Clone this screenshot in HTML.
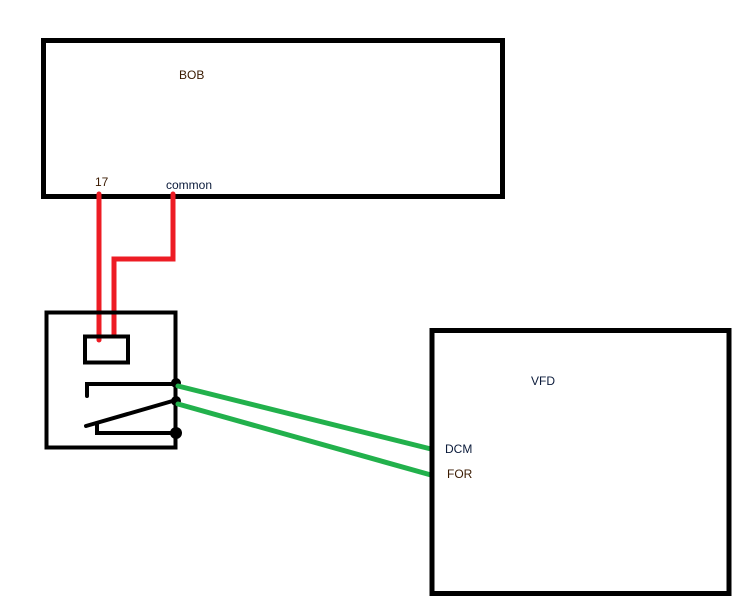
<!DOCTYPE html>
<html><head><meta charset="utf-8"><style>
html,body{margin:0;padding:0;background:#fff;}
svg{display:block;}
text{font-family:"Liberation Sans",sans-serif;font-size:12px;}
</style></head><body>
<svg width="743" height="611" viewBox="0 0 743 611" xmlns="http://www.w3.org/2000/svg">
<rect width="743" height="611" fill="#fff"/>
<!-- BOB -->
<rect x="43.5" y="40.5" width="459" height="156" fill="none" stroke="#000" stroke-width="5"/>
<text x="179" y="79" fill="#3a1a00">BOB</text>
<text x="95" y="186" fill="#3a1a00">17</text>
<text x="166" y="189" fill="#0a1a3a">common</text>
<!-- red wires -->
<g stroke="#ed1c24" stroke-width="5" fill="none" stroke-linecap="round" stroke-linejoin="miter">
<polyline points="99,194 99,340"/>
<polyline points="173,194 173,259 114,259 114,335"/>
</g>
<!-- relay -->
<rect x="46.5" y="312.5" width="129" height="135" fill="none" stroke="#000" stroke-width="4"/>
<rect x="85" y="336.5" width="43" height="26" fill="none" stroke="#000" stroke-width="4"/>
<g stroke="#000" stroke-width="4" fill="none" stroke-linecap="round">
<polyline points="87,396 87,384 176,384"/>
<line x1="86" y1="426" x2="176" y2="400"/>
<polyline points="97,423 97,433 176,433"/>
</g>
<circle cx="176" cy="383" r="5" fill="#000"/>
<circle cx="176" cy="401" r="5" fill="#000"/>
<circle cx="176" cy="433" r="6" fill="#000"/>
<!-- green wires -->
<g stroke="#22b14c" stroke-width="5" stroke-linecap="round">
<line x1="178" y1="386" x2="431" y2="449"/>
<line x1="178" y1="404" x2="431" y2="475"/>
</g>
<!-- VFD -->
<rect x="432" y="330.5" width="297" height="263" fill="none" stroke="#000" stroke-width="5"/>
<text x="531" y="385" fill="#0a1a3a">VFD</text>
<text x="445" y="453" fill="#0a1a3a">DCM</text>
<text x="447" y="478" fill="#3a1a00">FOR</text>
</svg>
</body></html>
